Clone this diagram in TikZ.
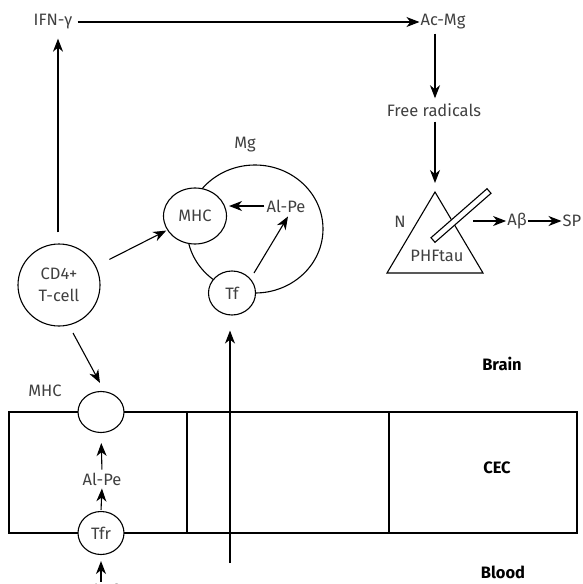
\documentclass[tikz,border=0pt]{standalone}
\usepackage{fontspec}
\setmainfont{Fira Sans}
\usetikzlibrary{arrows.meta,shapes.geometric,calc}
\begin{document}
\begin{tikzpicture}[x=1pt,y=-1pt,
  lbl/.style={text=black!75,font=\fontsize{16.5}{19}\selectfont,inner sep=1pt},
  bold/.style={text=black,font=\fontsize{16.5}{19}\selectfont\bfseries,inner sep=1pt},
  ln/.style={line width=1.1pt,black},
  arr/.style={ln,-{Stealth[length=13pt,width=10pt,inset=4pt]}},
  cell/.style={ellipse,draw,line width=1.1pt,fill=white,inner sep=0pt,text=black!75,font=\fontsize{16.5}{19}\selectfont}]
\useasboundingbox (0,0) rectangle (583,584);

% top chain
\node[lbl] (ifn) at (53,22) {IFN-γ};
\node[lbl] (acmg) at (443,22) {Ac-Mg};
\node[lbl] (fr) at (434,110) {Free radicals};
\coordinate (apex) at (435,192);
\coordinate (bl) at (387,273);
\coordinate (br) at (483,273);
\draw[ln] (apex) -- (bl) -- (br) -- cycle;
\draw[ln,fill=white] (431,237.7) -- (487,188.7) -- (491,193.3) -- (435,242.3) -- cycle;
\node[lbl] (n) at (400,222) {N};
\node[lbl] (phf) at (437,256) {PHFtau};
\node[lbl] (ab) at (517,221) {Aβ};
\node[lbl] (sp) at (572,221) {SP};
\coordinate (barout) at (473,221);

\draw[arr] (ifn.east) ++(4,0) -- (acmg.west);
\draw[arr,shorten <=3pt,shorten >=4pt] (acmg.south -| apex) -- (fr.north -| apex);
\draw[arr,shorten <=4pt,shorten >=9pt] (fr.south -| apex) -- (apex);
\draw[arr] (barout) -- (ab.west);
\draw[arr] (ab.east) -- (sp.west);

% microglia
\node[lbl] (mglbl) at (245,145) {Mg};
\draw[ln] (255,229) ellipse [x radius=68, y radius=64];
\node[cell,minimum width=63pt,minimum height=56pt] (mhc) at (195,216) {MHC};
\node[cell,minimum width=47pt,minimum height=44pt] (tf) at (232,293) {Tf};
\node[lbl] (alpe) at (286,206) {Al-Pe};
\draw[arr,shorten <=1pt,shorten >=2pt] (alpe.west) -- (alpe.west -| mhc.east);
\draw[arr] ($(tf.center)+(22,-20)$) -- ($(alpe.south)+(2,3)$);

% CD4 T-cell
\node[cell,circle,minimum size=82pt,align=center,font=\fontsize{16.5}{22}\selectfont] (cd4) at (59,285) {CD4+\\T-cell};
\draw[arr,shorten <=11pt,shorten >=8pt] (cd4.north -| 58,0) -- (ifn.south -| 58,0);
\draw[arr,shorten <=15pt,shorten >=1pt] (cd4) -- (mhc);

% CEC
\draw[ln] (9,412) rectangle (577,533);
\draw[ln] (187,412) -- (187,533);
\draw[ln] (389,412) -- (389,533);
\node[cell,minimum width=46pt,minimum height=41pt] (mhc2) at (101,412) {};
\node[lbl] (mhclbl) at (45,391) {MHC};
\node[cell,minimum width=46pt,minimum height=43pt] (tfr) at (101,533) {Tfr};
\node[lbl] (alpe2) at (102,479) {Al-Pe};
\node[lbl] (altf) at (101,590) {Al-Tf};
\draw[arr] ($(cd4.center)+(14,48)$) -- ($(mhc2.north)+(-1,-8)$);
\draw[arr,shorten <=1pt,shorten >=2pt] (tfr.north) -- (alpe2.south);
\draw[arr,shorten <=2pt,shorten >=10pt] (alpe2.north) -- (mhc2.south);
\draw[arr,shorten <=1pt,shorten >=6pt] (altf.north) -- (tfr.south);

\coordinate (bot) at (230,563);
\draw[arr] (bot) -- ($(tf.south)+(-2,15)$);

\node[bold] (brain) at (502,364) {Brain};
\node[bold] (cec) at (497,468) {CEC};
\node[bold] (blood) at (503,572) {Blood};
\end{tikzpicture}
\end{document}
